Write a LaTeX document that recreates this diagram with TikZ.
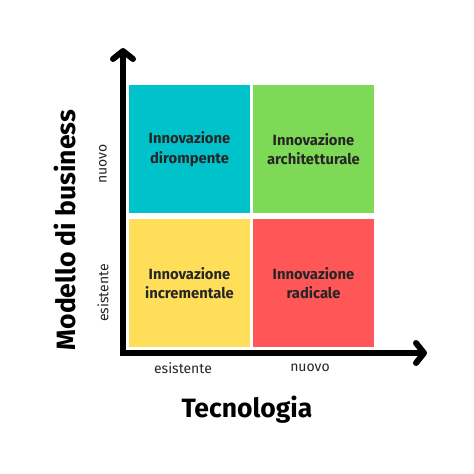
\documentclass[tikz,border=0pt]{standalone}
\usepackage{fontspec}
\setmainfont{Fira Sans}
\usepackage{xcolor}
\usetikzlibrary{positioning, arrows.meta}

\definecolor{ciano}{HTML}{00C2CB}
\definecolor{verde}{HTML}{7ED957}
\definecolor{giallo}{HTML}{FFDE59}
\definecolor{rosso}{HTML}{FF5757}

\tikzset{
    quad/.style={rectangle, minimum width=121pt, minimum height=128pt,
        inner sep=0pt, outer sep=0pt, align=center, text=black!85,
        font=\fontsize{14.8}{19.5}\selectfont\bfseries},
    lab/.style={text=black!85, font=\fontsize{14}{16}\selectfont},
    titolo/.style={text=black, font=\fontsize{26.5}{30}\selectfont\bfseries},
    axis/.style={line width=6pt, line join=miter,
        {Straight Barb[length=8pt, width=20pt, line cap=round, line join=round]}-{Straight Barb[length=8pt, width=20pt, line cap=round, line join=round]}}
}

\begin{document}
\begin{tikzpicture}[x=1pt, y=-1pt]

    \fill[white] (0,0) rectangle (474,474);
    \useasboundingbox (0,0) rectangle (474,474);

    \node[quad, fill=ciano] (dir) at (189.5,149)
        {Innovazione\\dirompente};
    \node[quad, fill=verde, right=3pt of dir]
        (arc) {Innovazione\\architetturale};
    \node[quad, fill=giallo, below=6pt of dir]
        (inc) {Innovazione\\incrementale};
    \node[quad, fill=rosso, below=6pt of arc]
        (rad) {Innovazione\\radicale};

    \coordinate (origin) at (123,353);
    \coordinate (ytip) at (123,48);
    \coordinate (xtip) at (427,353);
    \draw[axis] (ytip) -- (origin) -- (xtip);

    \node[lab] (xesist) at (183,368) {esistente};
    \node[lab] (xnuovo) at (310,368) {nuovo};
    \node[lab, rotate=90] (yesist) at (103,293) {esistente};
    \node[lab, rotate=90] (ynuovo) at (103,164) {nuovo};

    \node[titolo] (xtitle) at (247,410) {Tecnologia};
    \node[titolo, rotate=90] (ytitle) at (65,230) {Modello di business};
\end{tikzpicture}
\end{document}
